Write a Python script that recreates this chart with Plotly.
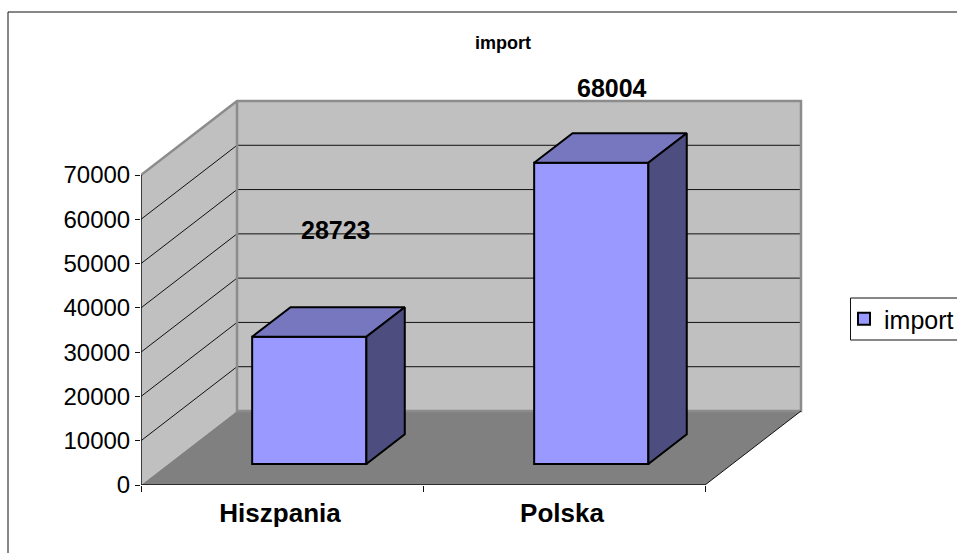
import plotly.graph_objects as go

categories = ["Hiszpania", "Polska"]
values = [28723, 68004]
series_name = "import"
y_ticks = [0, 10000, 20000, 30000, 40000, 50000, 60000, 70000]
label_shift_x = [27, 21]
label_shift_y = [107, 75]

W, H = 957, 553
L, R, T, B = 141, 152, 97, 68
PW, PH = W - L - R, H - T - B
X_UNIT = 282.0            # px per category
Y_UNIT = 310.0 / 70000    # px per value
DX = 96 / X_UNIT          # wall depth in x units
DY = 74 / Y_UNIT          # wall depth in y units
NCAT = len(categories)
YMAX = y_ticks[-1]
BAR_W = 0.405
F_NEAR, F_FAR = 0.284, 0.684  # depth fractions of bar front/back faces


def path(pts):
    return "M " + " L ".join(f"{x},{y}" for x, y in pts) + " Z"


def px_x(px):
    return (px - L) / PW


def px_y(py):
    return 1 - (py - T) / PH


shapes = [
    dict(type="rect", xref="paper", yref="paper", x0=px_x(8), x1=px_x(975), y0=px_y(12), y1=px_y(575),
         line=dict(color="#111111", width=1), fillcolor="white", layer="below"),
    dict(type="path", xref="x", yref="y", layer="below", line=dict(width=0), fillcolor="#C0C0C0",
         path=path([(0, 0), (DX, DY), (DX, DY + YMAX), (0, YMAX)])),
    dict(type="path", xref="x", yref="y", layer="below", line=dict(width=0), fillcolor="#C0C0C0",
         path=path([(DX, DY), (NCAT + DX, DY), (NCAT + DX, DY + YMAX), (DX, DY + YMAX)])),
    dict(type="path", xref="x", yref="y", layer="below", line=dict(width=0), fillcolor="#808080",
         path=path([(0, 0), (NCAT, 0), (NCAT + DX, DY), (DX, DY)])),
    # legend frame
    dict(type="rect", xref="paper", yref="paper", x0=px_x(850.5), x1=px_x(975), y0=px_y(298), y1=px_y(340),
         line=dict(color="#111111", width=1), layer="below"),
]
for v in y_ticks[1:-1]:
    shapes.append(dict(type="path", xref="x", yref="y", layer="below", line=dict(color="#111111", width=1),
                       path=f"M 0,{v} L {DX},{v + DY} L {NCAT + DX},{v + DY}"))
# grey wall edges
for pts in ([(0, YMAX), (DX, DY + YMAX), (NCAT + DX, DY + YMAX), (NCAT + DX, DY), (DX, DY), (DX, DY + YMAX)],):
    shapes.append(dict(type="path", xref="x", yref="y", layer="below", line=dict(color="#8C8C8C", width=2.5),
                       path="M " + " L ".join(f"{x},{y}" for x, y in pts)))
shapes.append(dict(type="line", xref="x", yref="y", layer="below", line=dict(color="#111111", width=1),
                   x0=NCAT, y0=0, x1=NCAT + DX, y1=DY))

fig = go.Figure()

base = F_NEAR * DY
front_x = [i + 0.5 + F_NEAR * DX for i in range(NCAT)]
fig.add_trace(go.Bar(x=front_x, y=values, base=base, width=BAR_W, name=series_name,
                     marker=dict(color="#9999FF", line=dict(color="black", width=2)),
                     showlegend=True, hoverinfo="skip"))

ddx = (F_FAR - F_NEAR) * DX
ddy = (F_FAR - F_NEAR) * DY
for cx, v in zip(front_x, values):
    x0, x1 = cx - BAR_W / 2, cx + BAR_W / 2
    top = base + v
    fig.add_trace(go.Scatter(x=[x0, x1, x1 + ddx, x0 + ddx, x0], y=[top, top, top + ddy, top + ddy, top],
                             mode="lines", fill="toself", fillcolor="#7777BF",
                             line=dict(color="black", width=2), showlegend=False, hoverinfo="skip"))
    fig.add_trace(go.Scatter(x=[x1, x1 + ddx, x1 + ddx, x1, x1], y=[base, base + ddy, top + ddy, top, base],
                             mode="lines", fill="toself", fillcolor="#4D4D80",
                             line=dict(color="black", width=2), showlegend=False, hoverinfo="skip"))

# axis lines, not clipped by the plot edge
fig.add_trace(go.Scatter(x=[0, 0], y=[0, YMAX], mode="lines", line=dict(color="#111111", width=1.5),
                         showlegend=False, hoverinfo="skip", cliponaxis=False))
fig.add_trace(go.Scatter(x=[0, NCAT], y=[0, 0], mode="lines", line=dict(color="#111111", width=1.5),
                         showlegend=False, hoverinfo="skip", cliponaxis=False))

annotations = [
    dict(x=cx, y=base + v, xref="x", yref="y", text=f"<b>{v}</b>", showarrow=False,
         xshift=sx, yshift=sy, font=dict(family="Liberation Sans", size=25, color="black"))
    for cx, v, sx, sy in zip(front_x, values, label_shift_x, label_shift_y)
]
annotations.append(dict(x=px_x(503), y=px_y(43), xref="paper", yref="paper", yanchor="middle", xanchor="center",
                        text=f"<b>{series_name}</b>", showarrow=False,
                        font=dict(family="Liberation Sans", size=18, color="black")))

fig.update_layout(
    width=W, height=H,
    margin=dict(l=L, r=R, t=T, b=B, pad=0),
    paper_bgcolor="white", plot_bgcolor="rgba(0,0,0,0)",
    font=dict(family="Liberation Sans", color="black"),
    shapes=shapes, annotations=annotations,
    showlegend=True,
    legend=dict(xref="container", yref="container", x=844 / W, y=1 - 319 / H, xanchor="left", yanchor="middle",
                bgcolor="rgba(0,0,0,0)", borderwidth=0,
                font=dict(family="Liberation Sans", size=25, color="black"), itemwidth=30),
    xaxis=dict(range=[0, PW / X_UNIT], showgrid=False, zeroline=False, showline=False, automargin=False,
               tickvals=[i + 0.493 for i in range(NCAT)],
               ticktext=[f"<b>{c}</b>" for c in categories],
               tickfont=dict(size=26, family="Liberation Sans", color="black"), ticks="",
               ticklabelstandoff=10,
               minor=dict(tickvals=list(range(NCAT + 1)), ticks="outside", ticklen=6, tickwidth=1, tickcolor="#111111")),
    yaxis=dict(range=[0, PH / Y_UNIT], showgrid=False, zeroline=False, showline=False, automargin=False,
               tickvals=y_ticks, tickformat="d", ticks="outside", ticklen=5, tickwidth=1, tickcolor="#111111",
               tickfont=dict(size=24, family="Liberation Sans", color="black")),
)

fig.write_html("out.html", config={"displayModeBar": False},
               post_script="document.body.style.margin='0';document.body.style.overflow='hidden';")
